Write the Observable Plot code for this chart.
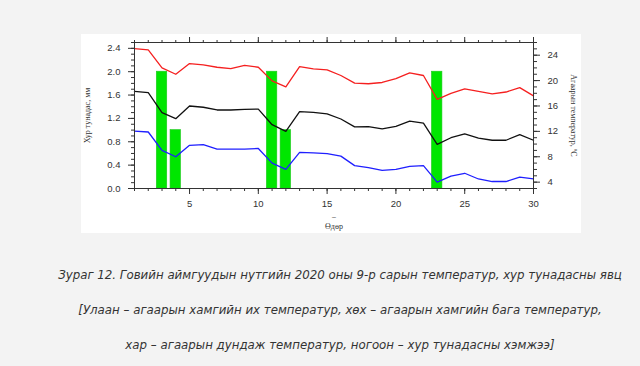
<!DOCTYPE html>
<html><head><meta charset="utf-8">
<script src="https://cdn.jsdelivr.net/npm/d3@7"></script>
<script src="https://cdn.jsdelivr.net/npm/@observablehq/plot@0.6"></script>
<style>
body{margin:0;background:#f3f3f3;width:640px;height:366px;overflow:hidden;position:relative}
#box{position:absolute;left:81px;top:34px;width:500px;height:199px;background:#fff}
.cap{position:absolute;left:0;width:680px;text-align:center;font-family:"DejaVu Sans",sans-serif;font-style:italic;font-size:11.8px;line-height:normal;color:#333;white-space:nowrap}
</style></head>
<body>
<div id="box"></div>
<div class="cap" style="top:268px">Зураг 12. Говийн аймгуудын нутгийн 2020 оны 9-р сарын температур, хур тунадасны явц</div>
<div class="cap" style="top:303px">[Улаан – агаарын хамгийн их температур, хөх – агаарын хамгийн бага температур,</div>
<div class="cap" style="top:338px">хар – агаарын дундаж температур, ногоон – хур тунадасны хэмжээ]</div>
<script>
const days = [1,2,3,4,5,6,7,8,9,10,11,12,13,14,15,16,17,18,19,20,21,22,23,24,25,26,27,28,29,30];
const tMax = [25.05,24.84,22.0,21.0,22.68,22.47,22.1,21.9,22.4,22.1,19.95,19.0,22.2,21.84,21.7,20.8,19.6,19.5,19.7,20.3,21.2,20.8,17.05,18.0,18.7,18.3,17.9,18.2,18.9,17.6];
const tMean = [18.3,18.1,14.95,14.0,16.0,15.8,15.37,15.37,15.47,15.5,13.05,12.0,15.1,15.0,14.74,13.95,12.7,12.74,12.4,12.8,13.6,13.3,9.95,11.0,11.6,10.95,10.6,10.6,11.5,10.6];
const tMin = [12.05,11.9,9.0,8.0,9.8,9.9,9.2,9.2,9.2,9.3,7.0,6.0,8.7,8.6,8.5,8.1,6.6,6.3,5.85,6.0,6.5,6.6,4.0,4.95,5.4,4.5,4.1,4.1,4.8,4.5];
const rainDays = [3,4,11,12,23];
const rainMm = [2.0,1.0,2.0,1.0,2.0];
const xMajor = [5,10,15,20,25,30];
const yMajor = [0,0.4,0.8,1.2,1.6,2.0,2.4];
const tMajor = [4,8,12,16,20,24];
const yLabel = "Хур тунадас, мм";
const tLabel = "Агаарын температур, ºС";
const xLabel = "Өдөр";

const mmDomain = [0, 2.5], tDomain = [3, 26];
const toMm = t => (t - tDomain[0]) / (tDomain[1] - tDomain[0]) * (mmDomain[1] - mmDomain[0]);
const fromMm = m => tDomain[0] + m / (mmDomain[1] - mmDomain[0]) * (tDomain[1] - tDomain[0]);

const rain = rainDays.map((d, i) => ({day: d, mm: rainMm[i]}));
const series = (arr) => days.map((d, i) => ({day: d, t: arr[i]}));
const yMinor = d3.range(0, 26).map(i => i / 10);
const tMinor = d3.range(3, 27).map(toMm);
const blank = () => "";
const axisCol = "#333";

const chart = Plot.plot({
  width: 500, height: 199,
  marginLeft: 53, marginRight: 48, marginTop: 8, marginBottom: 45,
  x: {domain: [1, 30]},
  y: {domain: mmDomain},
  style: {fontFamily: "'Liberation Sans', Arial, sans-serif", fontSize: "9.5px", color: "#333", background: "transparent", overflow: "visible"},
  marks: [
    Plot.rectY(rain, {x1: d => d.day - 0.38, x2: d => d.day + 0.38, y1: 0, y2: "mm", fill: "#00e600", stroke: "#1fc81f", strokeWidth: 0.6}),
    Plot.line(series(tMax), {x: "day", y: d => toMm(d.t), stroke: "#f52020", strokeWidth: 1.3}),
    Plot.line(series(tMean), {x: "day", y: d => toMm(d.t), stroke: "#111", strokeWidth: 1.3}),
    Plot.line(series(tMin), {x: "day", y: d => toMm(d.t), stroke: "#1f1fff", strokeWidth: 1.3}),
    Plot.frame({stroke: axisCol}),
    Plot.axisX(days, {tickSize: 3, tickFormat: blank, label: null, stroke: axisCol}),
    Plot.axisX(xMajor, {tickSize: 6, tickPadding: 6, label: null, stroke: axisCol}),
    Plot.axisX(days, {anchor: "top", tickSize: 3, tickFormat: blank, label: null, stroke: axisCol}),
    Plot.axisX(xMajor, {anchor: "top", tickSize: 6, tickFormat: blank, label: null, stroke: axisCol}),
    Plot.axisY(yMinor, {tickSize: 3, tickFormat: blank, label: null, stroke: axisCol}),
    Plot.axisY(yMajor, {tickSize: 6, tickPadding: 8, tickFormat: d3.format(".1f"), label: null, stroke: axisCol}),
    Plot.axisY(tMinor, {anchor: "right", tickSize: 3, tickFormat: blank, label: null, stroke: axisCol}),
    Plot.axisY(tMajor.map(toMm), {anchor: "right", tickSize: 6, tickPadding: 8, tickFormat: d => Math.round(fromMm(d)), label: null, stroke: axisCol}),
    Plot.text([yLabel], {frameAnchor: "left", textAnchor: "middle", rotate: -90, dx: -47, fontFamily: "'Liberation Serif', serif", fontSize: 8, fill: "#333"}),
    Plot.text([tLabel], {frameAnchor: "right", textAnchor: "middle", rotate: 90, dx: 40, fontFamily: "'Liberation Serif', serif", fontSize: 8, fill: "#333"}),
    Plot.text(["–"], {frameAnchor: "bottom", dy: 30, fontSize: 7, fill: "#555"}),
    Plot.text([xLabel], {frameAnchor: "bottom", dy: 40, fontFamily: "'Liberation Serif', serif", fontSize: 8, fill: "#333"})
  ]
});
document.getElementById("box").appendChild(chart);
</script>
</body></html>
